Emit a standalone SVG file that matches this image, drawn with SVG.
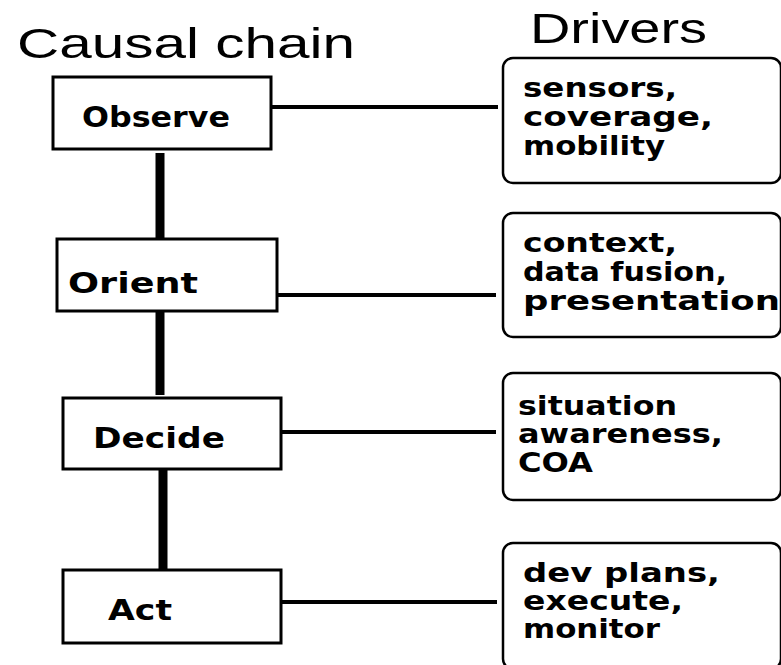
<svg xmlns="http://www.w3.org/2000/svg" width="781" height="665" viewBox="0 0 781 665">
  <style>
    .title { font-family: "Liberation Sans", Arial, sans-serif; font-size: 42px; fill: #000; }
    .step rect { fill: #fff; stroke: #000; stroke-width: 3; }
    .step text { font-family: "DejaVu Sans", Verdana, sans-serif; font-weight: bold; font-size: 29px; fill: #000; }
    .driver rect { fill: #fff; stroke: #000; stroke-width: 2.5; }
    .driver text { font-family: "DejaVu Sans", Verdana, sans-serif; font-weight: bold; font-size: 26px; fill: #000; }
    .chain { stroke: #000; stroke-width: 9; fill: none; }
    .link { stroke: #000; stroke-width: 4; fill: none; }
  </style>
  <rect width="781" height="665" fill="#fff"/>

  <!-- column headings -->
  <text class="title" x="17" y="58" textLength="338" lengthAdjust="spacingAndGlyphs">Causal chain</text>
  <text class="title" x="530" y="43" font-size="46" textLength="177" lengthAdjust="spacingAndGlyphs">Drivers</text>

  <!-- connectors -->
  <g id="connectors">
    <line class="chain" x1="160" y1="153" x2="160" y2="240"/>
    <line class="chain" x1="160" y1="310" x2="160" y2="395"/>
    <line class="chain" x1="163" y1="466" x2="163" y2="570"/>
    <line class="link" x1="272" y1="107" x2="498" y2="107"/>
    <line class="link" x1="277" y1="295" x2="496" y2="295"/>
    <line class="link" x1="281" y1="432" x2="496" y2="432"/>
    <line class="link" x1="281" y1="602" x2="497" y2="602"/>
  </g>

  <!-- causal chain steps -->
  <g id="observe" class="step">
    <rect x="53" y="77" width="218" height="72"/>
    <text x="82" y="127" textLength="148" lengthAdjust="spacingAndGlyphs">Observe</text>
  </g>
  <g id="orient" class="step">
    <rect x="57" y="239" width="220" height="72"/>
    <text x="68" y="293" textLength="130" lengthAdjust="spacingAndGlyphs">Orient</text>
  </g>
  <g id="decide" class="step">
    <rect x="63" y="398" width="218" height="71"/>
    <text x="93" y="448" textLength="132" lengthAdjust="spacingAndGlyphs">Decide</text>
  </g>
  <g id="act" class="step">
    <rect x="63" y="570" width="218" height="73"/>
    <text x="108" y="620" textLength="64" lengthAdjust="spacingAndGlyphs">Act</text>
  </g>

  <!-- drivers -->
  <g id="drivers-observe" class="driver">
    <rect x="503" y="58" width="278" height="125" rx="10"/>
    <text x="523" y="97" textLength="154" lengthAdjust="spacingAndGlyphs">sensors,</text>
    <text x="523" y="126" textLength="190" lengthAdjust="spacingAndGlyphs">coverage,</text>
    <text x="523" y="155" textLength="142" lengthAdjust="spacingAndGlyphs">mobility</text>
  </g>
  <g id="drivers-orient" class="driver">
    <rect x="503" y="213" width="278" height="124" rx="10"/>
    <text x="523" y="252" textLength="154" lengthAdjust="spacingAndGlyphs">context,</text>
    <text x="523" y="281" textLength="204" lengthAdjust="spacingAndGlyphs">data fusion,</text>
    <text x="523" y="310" textLength="257" lengthAdjust="spacingAndGlyphs">presentation</text>
  </g>
  <g id="drivers-decide" class="driver">
    <rect x="503" y="373" width="278" height="127" rx="10"/>
    <text x="518" y="415" textLength="159" lengthAdjust="spacingAndGlyphs">situation</text>
    <text x="518" y="443" textLength="205" lengthAdjust="spacingAndGlyphs">awareness,</text>
    <text x="518" y="472" textLength="75" lengthAdjust="spacingAndGlyphs">COA</text>
  </g>
  <g id="drivers-act" class="driver">
    <rect x="503" y="543" width="278" height="126" rx="10"/>
    <text x="523" y="582" textLength="197" lengthAdjust="spacingAndGlyphs">dev plans,</text>
    <text x="523" y="610" textLength="160" lengthAdjust="spacingAndGlyphs">execute,</text>
    <text x="523" y="638" textLength="137" lengthAdjust="spacingAndGlyphs">monitor</text>
  </g>
</svg>
